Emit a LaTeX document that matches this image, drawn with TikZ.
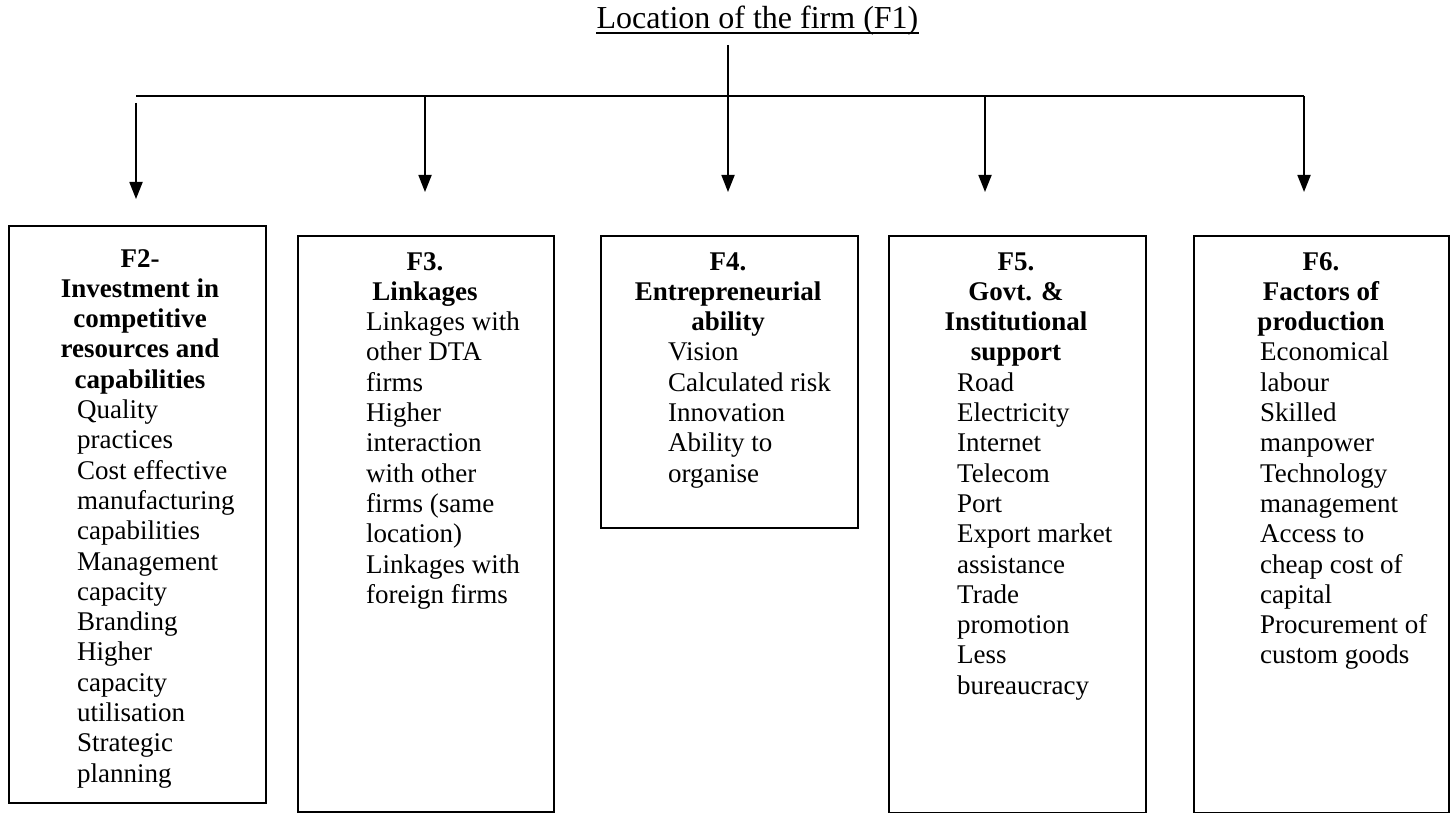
\documentclass[tikz,border=0pt]{standalone}
\usepackage{fontspec}
\setmainfont{Liberation Serif}
\usetikzlibrary{arrows.meta}
\begin{document}
\begin{tikzpicture}[x=1pt,y=-1pt,
  line/.style={line width=1.8pt},
  arr/.style={line width=1.8pt,-{Triangle[length=17pt,width=13pt]}},
  fbox/.style={draw,line width=1.8pt,inner sep=0pt,anchor=north west},
  head/.style={font=\bfseries\fontsize{27}{30}\selectfont,anchor=base,inner sep=0pt},
  item/.style={font=\fontsize{27}{30}\selectfont,anchor=base west,inner sep=0pt},
]
\useasboundingbox (0,0) rectangle (1454,813);
\fill[white] (0,0) rectangle (1454,813);

% title
\node[font=\fontsize{32}{36}\selectfont,anchor=base,inner sep=0pt] (title) at (757.5,29) {Location of the firm (F1)};
\draw[line] ([yshift=-4pt]title.base west) -- ([yshift=-4pt]title.base east);

% connectors
\coordinate (c0) at (728,45);
\coordinate (hl) at (136,96);
\coordinate (hr) at (1304,96);
\coordinate (s1) at (136,103);
\coordinate (s2) at (425,96);
\coordinate (s4) at (985,96);
\coordinate (e1) at (136,199);
\coordinate (e2) at (425,192);
\coordinate (e3) at (728,192);
\coordinate (e4) at (985,192);
\coordinate (e5) at (1304,192);
\draw[line] (hl) -- (hr);
\draw[arr] (s1) -- (e1);
\draw[arr] (s2) -- (e2);
\draw[arr] (c0) -- (e3);
\draw[arr] (s4) -- (e4);
\draw[arr] (hr) -- (e5);

% boxes
\node[fbox,minimum width=257pt,minimum height=577pt] (b2) at (8,225) {};
\node[fbox,minimum width=256pt,minimum height=576pt] (b3) at (297,235) {};
\node[fbox,minimum width=257pt,minimum height=292pt] (b4) at (600,235) {};
\node[fbox,minimum width=257pt,minimum height=577pt] (b5) at (888,235) {};
\node[fbox,minimum width=255pt,minimum height=577pt] (b6) at (1193,235) {};

% F2
\foreach \t [count=\i from 0] in {{F2-},{Investment in},{competitive},{resources and},{capabilities}}
  \node[head] (f2h\i) at (140,{267+30.3*\i}) {\t};
\begin{scope}
\clip (0,0) rectangle (300,790);
\foreach \t [count=\i from 5] in {{Quality},{practices},{Cost effective},{manufacturing},{capabilities},{Management},{capacity},{Branding},{Higher},{capacity},{utilisation},{Strategic},{planning}}
  \node[item] (f2i\i) at (77,{267+30.3*\i}) {\t};
\end{scope}

% F3
\foreach \t [count=\i from 0] in {{F3.},{Linkages}}
  \node[head] (f3h\i) at (425,{270+30.3*\i}) {\t};
\foreach \t [count=\i from 2] in {{Linkages with},{other DTA},{firms},{Higher},{interaction},{with other},{firms (same},{location)},{Linkages with},{foreign firms}}
  \node[item] (f3i\i) at (366,{270+30.3*\i}) {\t};

% F4
\foreach \t [count=\i from 0] in {{F4.},{Entrepreneurial},{ability}}
  \node[head] (f4h\i) at (728,{270+30.3*\i}) {\t};
\foreach \t [count=\i from 3] in {{Vision},{Calculated risk},{Innovation},{Ability to},{organise}}
  \node[item] (f4i\i) at (668,{270+30.3*\i}) {\t};

% F5
\foreach \t [count=\i from 0] in {{F5.},{Govt. \&},{Institutional},{support}}
  \node[head] (f5h\i) at (1016,{270+30.3*\i}) {\t};
\foreach \t [count=\i from 4] in {{Road},{Electricity},{Internet},{Telecom},{Port},{Export market},{assistance},{Trade},{promotion},{Less},{bureaucracy}}
  \node[item] (f5i\i) at (957,{270+30.3*\i}) {\t};

% F6
\foreach \t [count=\i from 0] in {{F6.},{Factors of},{production}}
  \node[head] (f6h\i) at (1321,{270+30.3*\i}) {\t};
\foreach \t [count=\i from 3] in {{Economical},{labour},{Skilled},{manpower},{Technology},{management},{Access to},{cheap cost of},{capital},{Procurement of},{custom goods}}
  \node[item] (f6i\i) at (1260,{270+30.3*\i}) {\t};
\end{tikzpicture}
\end{document}
